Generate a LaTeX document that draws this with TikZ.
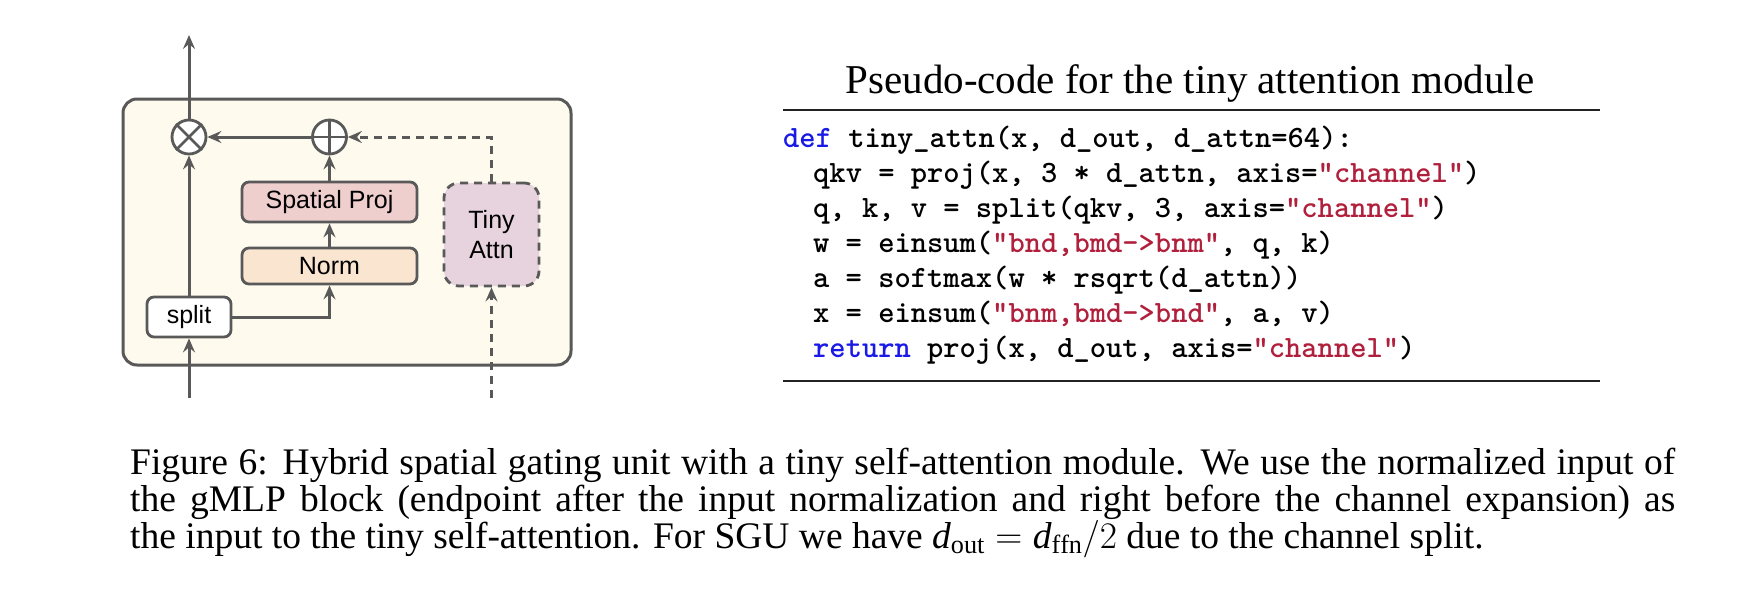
\documentclass[tikz,border=0pt]{standalone}
\usepackage{fix-cm}
\usepackage{fontspec}
\setmainfont{Liberation Serif}
\newfontfamily\arialf{Liberation Sans}
\usetikzlibrary{arrows.meta}
\definecolor{lnc}{HTML}{595959}
\definecolor{outerfill}{HTML}{FEFBEE}
\definecolor{spfill}{HTML}{EFCECE}
\definecolor{normfill}{HTML}{F9E5D0}
\definecolor{tafill}{HTML}{E6D3DE}
\definecolor{kwblue}{HTML}{1A1AE6}
\definecolor{strred}{HTML}{B0203C}
\definecolor{rulec}{HTML}{222222}
\newcommand{\kw}[1]{{\color{kwblue}#1}}
\newcommand{\st}[1]{{\color{strred}#1}}
\tikzset{
  outerbox/.style={draw=lnc, line width=3pt, fill=outerfill, rounded corners=14pt, inner sep=0pt},
  blk/.style={draw=lnc, line width=2.8pt, rounded corners=7pt, inner sep=0pt,
    font=\arialf\fontsize{25}{30}\selectfont, align=center},
  opc/.style={draw=lnc, line width=2.8pt, circle, fill=white, minimum size=34pt, inner sep=0pt},
  arr/.style={draw=lnc, line width=3pt, -{Stealth[length=14pt,width=12pt,inset=5pt]}},
  dsh/.style={dash pattern=on 8pt off 6pt},
  codeline/.style={anchor=base west, inner sep=0pt, font=\ttfamily\bfseries\fontsize{31}{35}\selectfont},
  capline/.style={anchor=base west, inner sep=0pt, font=\fontsize{37.5}{40}\selectfont},
  rule/.style={draw=rulec, line width=2.4pt},
}
\begin{document}
\begin{tikzpicture}[x=1pt,y=-1pt]
\useasboundingbox (0,0) rectangle (1738,592);
% ---- left diagram ----
\node[outerbox, minimum width=448pt, minimum height=266pt] (outer) at (347,232) {};
\node[opc] (mul) at (189,137) {};
\draw[draw=lnc, line width=2.8pt] (mul.north west) -- (mul.south east) (mul.north east) -- (mul.south west);
\node[opc] (add) at (329.5,137) {};
\draw[draw=lnc, line width=2.8pt] (add.north) -- (add.south) (add.west) -- (add.east);
\node[blk, fill=spfill, minimum width=175pt, minimum height=40pt] (sp) at (329.5,202) {Spatial Proj};
\node[blk, fill=normfill, minimum width=175pt, minimum height=36pt] (norm) at (329.5,266) {Norm};
\node[blk, fill=tafill, dsh, rounded corners=15pt, minimum width=95pt, minimum height=103pt] (ta) at (491.5,234.5) {Tiny\\Attn};
\node[blk, fill=white, minimum width=84pt, minimum height=40pt] (split) at (189,317) {split};
\coordinate (outtop) at (189,35);
\coordinate (inbot) at (189,398);
\coordinate (inbot2) at (491.5,398);
\draw[arr] (inbot) -- (split.south);
\draw[arr] (split.north) -- (mul.south);
\draw[arr] (split.east) -| (norm.south);
\draw[arr] (norm.north) -- (sp.south);
\draw[arr] (sp.north) -- (add.south);
\draw[arr] (add.west) -- (mul.east);
\draw[arr, dsh] (ta.north) |- (add.east);
\draw[arr, dsh] (inbot2) -- (ta.south);
\draw[arr] (mul.north) -- (outtop);
% ---- pseudo-code ----
\node[anchor=base, inner sep=0pt, font=\fontsize{41}{45}\selectfont] (title) at (1190,93) {Pseudo-code for the tiny attention module};
\draw[rule] (783,110) -- (1600,110);
\draw[rule] (783,381) -- (1600,381);
\node[codeline] (c1) at (783,147) {\kw{def} tiny\_attn(x, d\_out, d\_attn=64):};
\node[codeline] (c2) at (813,182) {qkv = proj(x, 3 * d\_attn, axis=\st{"channel"})};
\node[codeline] (c3) at (813,217) {q, k, v = split(qkv, 3, axis=\st{"channel"})};
\node[codeline] (c4) at (813,252) {w = einsum(\st{"bnd,bmd->bnm"}, q, k)};
\node[codeline] (c5) at (813,287) {a = softmax(w * rsqrt(d\_attn))};
\node[codeline] (c6) at (813,322) {x = einsum(\st{"bnm,bmd->bnd"}, a, v)};
\node[codeline] (c7) at (813,357) {\kw{return} proj(x, d\_out, axis=\st{"channel"})};
% ---- caption ----
\node[capline] (cap1) at (130,474) {\makebox[1545pt][s]{Figure 6: Hybrid spatial gating unit with a tiny self-attention module. We use the normalized input of}};
\node[capline] (cap2) at (130,511) {\makebox[1545pt][s]{the gMLP block (endpoint after the input normalization and right before the channel expansion) as}};
\node[capline] (cap3) at (130,548) {the input to the tiny self-attention. For SGU we have $\mathit{d}_{\mathrm{out}} = \mathit{d}_{\mathrm{ffn}}/2$ due to the channel split.};
\end{tikzpicture}
\end{document}
